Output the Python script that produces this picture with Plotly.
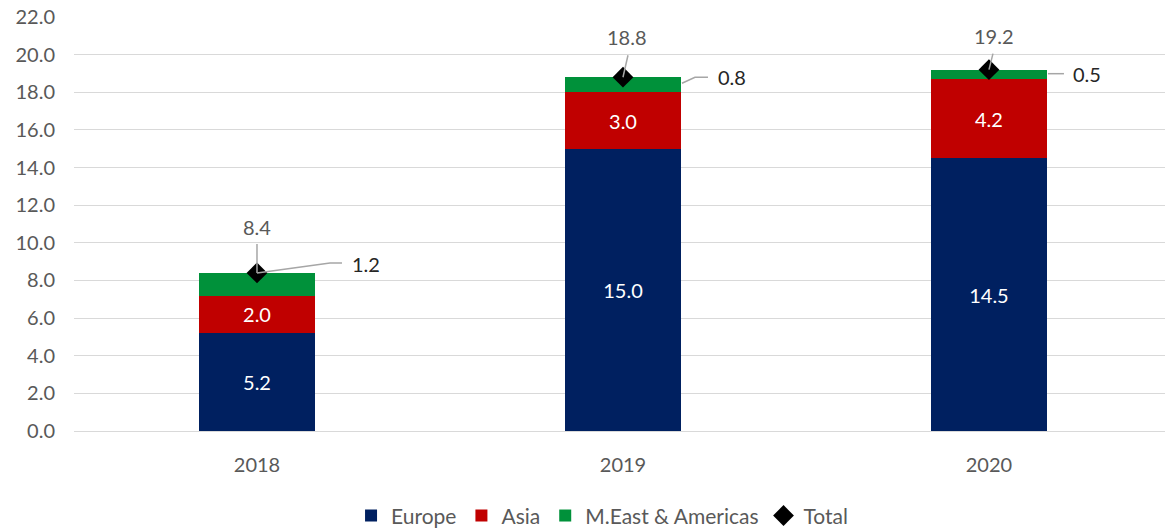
import plotly.graph_objects as go

years = ["2018", "2019", "2020"]
europe = [5.2, 15.0, 14.5]
asia = [2.0, 3.0, 4.2]
meast = [1.2, 0.8, 0.5]
total = [8.4, 18.8, 19.2]
yticks = [0, 2, 4, 6, 8, 10, 12, 14, 16, 18, 20, 22]

FONT = "Lato"
GREY = "#595959"
LINE = "#A6A6A6"

fig = go.Figure()
xs = list(range(len(years)))
bw = 0.317
fig.add_trace(go.Bar(name="Europe", x=xs, y=europe, width=bw, marker_color="#002060",
                     marker_line_width=0,
                     text=[f"{v:.1f}" for v in europe], textposition="inside",
                     insidetextanchor="middle", textfont=dict(color="white", size=20, family=FONT),
                     hoverinfo="skip"))
fig.add_trace(go.Bar(name="Asia", x=xs, y=asia, width=bw, marker_color="#C00000",
                     marker_line_width=0,
                     text=[f"{v:.1f}" for v in asia], textposition="inside",
                     insidetextanchor="middle", textfont=dict(color="white", size=20, family=FONT),
                     hoverinfo="skip"))
fig.add_trace(go.Bar(name="M.East & Americas", x=xs, y=meast, width=bw, marker_color="#00913A",
                     marker_line_width=0, hoverinfo="skip"))
fig.add_trace(go.Scatter(name="Total", x=xs, y=total, mode="markers",
                         marker=dict(symbol="diamond", size=16, color="black"),
                         hoverinfo="skip"))

# leader-line geometry (pixel offsets relative to each total point)
green_paths = [
    ([(0, 0), (73, 10), (85, 10)], (109, 9)),
    ([(59, -6), (72, 0), (85, 0)], (109, 0)),
    ([(59, -4), (75, -4)], (98, -4)),
]
total_paths = [
    ([(0, 0), (0, 29)], (0, 46)),
    ([(0, 0), (5, 22)], (4, 40)),
    ([(0, 0), (4, 16)], (5, 34)),
]

def path_str(pts):
    return "M " + " L ".join(f"{a},{b}" for a, b in pts)

for i in xs:
    for (pts, (dx, dy)), val, col in [
        (green_paths[i], meast[i], "#262626"),
        (total_paths[i], total[i], GREY),
    ]:
        fig.add_shape(type="path", xref="x", yref="y", xsizemode="pixel", ysizemode="pixel",
                      xanchor=i, yanchor=total[i], path=path_str(pts),
                      line=dict(color=LINE, width=1.5), layer="above")
        fig.add_annotation(x=i, y=total[i], xref="x", yref="y", text=f"{val:.1f}",
                           showarrow=False, xshift=dx, yshift=dy,
                           font=dict(size=20, color=col, family=FONT))

fig.update_layout(
    barmode="stack",
    width=1165, height=530,
    margin=dict(l=74, r=0, t=17, b=99, autoexpand=False),
    paper_bgcolor="white", plot_bgcolor="white",
    font=dict(family=FONT, size=20, color=GREY),
    showlegend=True,
    legend=dict(orientation="h", x=0.484, xanchor="center", y=-0.205, yanchor="middle",
                font=dict(size=21, color=GREY, family=FONT), traceorder="normal"),
    xaxis=dict(tickmode="array", tickvals=xs, ticktext=years, range=[-0.5, 2.481],
               showgrid=False, zeroline=False, showline=False, ticklabelstandoff=20,
               automargin=False, tickfont=dict(size=20, color=GREY)),
    yaxis=dict(range=[0, 22], tickvals=yticks, ticktext=[f"{v:.1f}" for v in yticks],
               showgrid=True, gridcolor="#D9D9D9", gridwidth=1, zeroline=True,
               zerolinecolor="#D9D9D9", zerolinewidth=1, showline=False, automargin=False,
               ticklabelstandoff=18, tickfont=dict(size=20, color=GREY)),
)

fig.write_html("out.html", config={"displayModeBar": False, "staticPlot": True},
               post_script="document.body.style.margin='0';document.body.style.overflow='hidden';")
